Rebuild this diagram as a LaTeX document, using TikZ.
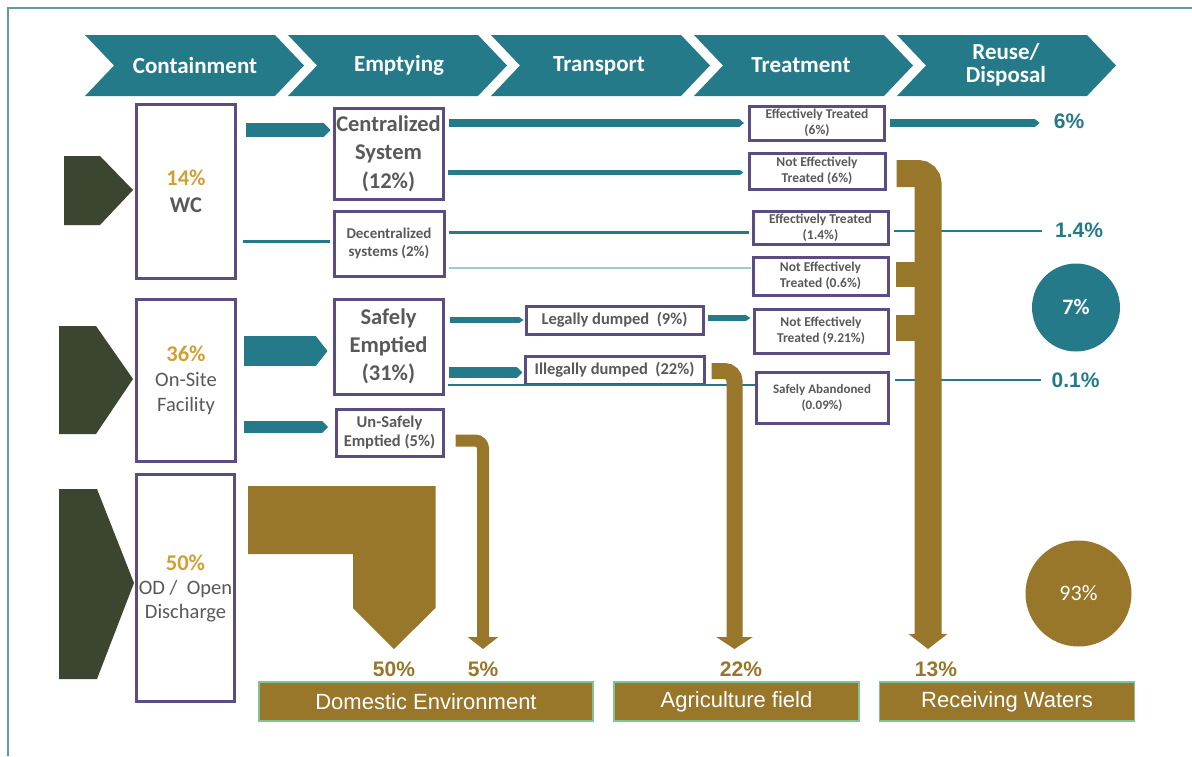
\documentclass[tikz,border=0pt]{standalone}
\usepackage{fontspec}
\setmainfont{Carlito}
\newfontfamily\arialfont{Liberation Sans}
\usepackage{xcolor}
\usetikzlibrary{arrows.meta}

\definecolor{flowteal}{HTML}{257A89}
\definecolor{lightteal}{HTML}{9CCAD2}
\definecolor{mud}{HTML}{98762A}
\definecolor{darkolive}{HTML}{3B4530}
\definecolor{boxpurple}{HTML}{5B4C82}
\definecolor{gold}{HTML}{D1A033}
\definecolor{txtgray}{HTML}{595959}
\definecolor{destgreen}{HTML}{7DC693}
\definecolor{framecol}{HTML}{5E9E9A}
\newcommand{\fs}[2]{\fontsize{#1}{#2}\selectfont}

\begin{document}
\begin{tikzpicture}[x=1pt,y=-1pt]
\tikzstyle{every node}+=[inner sep=0pt]
\tikzstyle{cbox}=[draw=boxpurple, line width=3pt, fill=white, align=center, text=txtgray]
\tikzstyle{head}=[text=white, align=center, font=\bfseries\fs{23}{23}]
\tikzstyle{dest}=[draw=destgreen, line width=1.5pt, fill=mud, text=white, font=\arialfont\fs{22}{26}]
\tikzstyle{pct}=[font=\arialfont\bfseries\fs{21}{24}]
\tikzstyle{tflow}=[draw=flowteal]
\tikzstyle{bflow}=[draw=mud]
\useasboundingbox (0,0) rectangle (1192,756);
\fill[white] (0,0) rectangle (1192,756);
\draw[framecol, line width=1.5pt] (8,756) -- (8,8) -- (1192,8);
% stage chevrons
\foreach \x in {85,288,491,694,897}
  \fill[flowteal] (\x,35) -- ++(190,0) -- ++(29,30.5) -- ++(-29,30.5) -- ++(-190,0) -- ++(29,-30.5) -- cycle;
\node[head] (st1) at (195,65.5) {Containment};
\node[head] (st2) at (399,65.5) {Emptying};
\node[head] (st3) at (599,65.5) {Transport};
\node[head] (st4) at (801,65.5) {Treatment};
\node[head] (st5) at (1006,65) {Reuse/\\Disposal};
% source pointers
\fill[darkolive] (64,156) -- (100,156) -- (133,190) -- (100,225) -- (64,225) -- cycle;
\fill[darkolive] (59,326) -- (96,326) -- (133,379) -- (96,434) -- (59,434) -- cycle;
\fill[darkolive] (59,489) -- (97,489) -- (134,583) -- (97,679) -- (59,679) -- cycle;
% containment
\node[cbox, minimum width=99, minimum height=174, font=\bfseries\fs{22.5}{27}] (wc) at (186,191.5) {{\color{gold}14\%}\\WC};
\node[cbox, minimum width=99, minimum height=162, font=\fs{20.5}{25}] (os) at (186,380) {{\bfseries\fs{22.5}{25}\color{gold}36\%}\\On-Site\\Facility};
\node[cbox, minimum width=98, minimum height=227, font=\fs{20.5}{24}] (od) at (185.5,588) {{\bfseries\fs{22.5}{24}\color{gold}50\%}\\OD /~ Open\\Discharge};
% emptying
\node[cbox, minimum width=109, minimum height=91, font=\bfseries\fs{22.5}{28.5}] (cs) at (388.5,153.5) {Centralized\\System\\(12\%)};
\node[cbox, minimum width=110, minimum height=65, font=\bfseries\fs{15}{18}] (ds) at (389,243.5) {Decentralized\\systems (2\%)};
\node[cbox, minimum width=109, minimum height=95, font=\bfseries\fs{22.5}{28}] (se) at (388.5,346.5) {Safely\\Emptied\\(31\%)};
\node[cbox, minimum width=107, minimum height=47, font=\bfseries\fs{16.5}{19}] (us) at (389.5,432.5) {Un-Safely\\Emptied (5\%)};
% transport
\node[cbox, minimum width=177, minimum height=28, font=\bfseries\fs{16.5}{18}] (ld) at (614.5,320) {Legally dumped~ (9\%)};
\node[cbox, minimum width=179, minimum height=28, font=\bfseries\fs{16.5}{18}] (id) at (614.5,370) {Illegally dumped~ (22\%)};
% treatment
\node[cbox, minimum width=135, minimum height=34, font=\bfseries\fs{13.5}{16}] (et6) at (817,123) {Effectively Treated\\(6\%)};
\node[cbox, minimum width=136, minimum height=36, font=\bfseries\fs{13.5}{16}] (ne6) at (817,171) {Not Effectively\\Treated (6\%)};
\node[cbox, minimum width=135, minimum height=33, font=\bfseries\fs{13.5}{16}] (et14) at (820.5,227.5) {Effectively Treated\\(1.4\%)};
\node[cbox, minimum width=135, minimum height=38, font=\bfseries\fs{13.5}{16}] (ne06) at (820.5,276) {Not Effectively\\Treated (0.6\%)};
\node[cbox, minimum width=134, minimum height=44, font=\bfseries\fs{13.5}{16}] (ne921) at (821,331) {Not Effectively\\Treated (9.21\%)};
\node[cbox, minimum width=132, minimum height=51, font=\bfseries\fs{13}{16}] (sa) at (822,397.5) {Safely Abandoned\\(0.09\%)};
% reuse / disposal
\node[pct, text=flowteal] (p6) at (1069,121) {6\%};
\node[pct, text=flowteal] (p14) at (1079,230) {1.4\%};
\node[pct, text=flowteal] (p01) at (1075.5,380) {0.1\%};
\node[circle, fill=flowteal, minimum size=88, text=white, font=\bfseries\fs{22}{24}] (c7) at (1076,307.5) {7\%};
\node[circle, fill=mud, minimum size=106, text=white, font=\fs{22}{24}] (c93) at (1078.5,593.5) {93\%};
\node[pct, text=mud] (d50) at (394,669) {50\%};
\node[pct, text=mud] (d5) at (483,669) {5\%};
\node[pct, text=mud] (d22) at (741,669) {22\%};
\node[pct, text=mud] (d13) at (936,669) {13\%};
\node[dest, minimum width=334, minimum height=39] (dom) at (426,701.5) {Domestic Environment};
\node[dest, minimum width=245, minimum height=39] (agr) at (736.5,701.5) {Agriculture field};
\node[dest, minimum width=255, minimum height=39] (rw) at (1007,701.5) {Receiving Waters};
\coordinate (t5) at (483,649);
\coordinate (t22) at (734.5,649);
\coordinate (t13) at (928,649);
% teal flows
\draw[tflow, line width=14pt, shorten <=9pt, shorten >=2pt, -{Triangle[length=7pt,width=14pt]}] (wc.east |- 0,130) -- (cs.west |- 0,130);
\draw[tflow, line width=3pt, shorten <=6pt, shorten >=3pt] (wc.east |- 0,241) -- (ds.west |- 0,241);
\draw[tflow, line width=8pt, shorten <=4pt, shorten >=4pt, -{Triangle[length=5pt,width=8pt]}] (cs.east |- 0,123) -- (et6.west |- 0,123);
\draw[tflow, line width=5pt, shorten <=3pt, shorten >=4pt, -{Triangle[length=4pt,width=5pt]}] (cs.east |- 0,172.5) -- (ne6.west |- 0,172.5);
\draw[tflow, line width=2.5pt, shorten <=3pt, shorten >=3pt] (ds.east |- 0,232.5) -- (et14.west |- 0,232.5);
\draw[lightteal, line width=1.5pt, shorten <=3pt, shorten >=1pt] (ds.east |- 0,268) -- (ne06.west |- 0,268);
\draw[tflow, line width=8pt, shorten <=4pt, shorten >=14pt, -{Triangle[length=5pt,width=8pt]}] (et6.east |- 0,123) -- (p6.west |- 0,123);
\draw[tflow, line width=2.5pt, shorten <=4pt, shorten >=13pt] (et14.east |- 0,231) -- (p14.west |- 0,231);
\draw[tflow, line width=6.5pt, shorten <=5pt, shorten >=1pt, -{Triangle[length=5pt,width=6.5pt]}] (se.east |- ld.west) -- (ld.west);
\draw[tflow, line width=11pt, shorten <=4pt, shorten >=1pt, -{Triangle[length=6pt,width=11pt]}] (se.east |- 0,372.5) -- (id.west |- 0,372.5);
\draw[tflow, line width=6pt, shorten <=3pt, shorten >=2pt, -{Triangle[length=5pt,width=6pt]}] (ld.east |- 0,318) -- (ne921.west |- 0,318);
\draw[tflow, line width=1.3pt, shorten <=3pt] (se.east |- 0,385) -- (sa.west |- 0,385);
\draw[tflow, line width=2pt, shorten <=5pt, shorten >=10pt] (sa.east |- 0,380) -- (p01.west |- 0,380);
\draw[tflow, line width=30pt, shorten <=7pt, shorten >=5pt, -{Triangle[length=12pt,width=30pt]}] (os.east |- 0,351) -- (se.west |- 0,351);
\draw[tflow, line width=12pt, shorten <=7pt, shorten >=6.5pt, -{Triangle[length=6pt,width=12pt]}] (os.east |- 0,427) -- (us.west |- 0,427);
% brown flows
\fill[mud] (248,486) -- (435.5,486) -- (435.5,608) -- (394,649) -- (353,608) -- (353,554) -- (248,554) -- cycle;
\draw[bflow, line width=12pt, rounded corners=8pt, shorten <=11pt, -{Triangle[length=12pt,width=30pt]}] (us.east |- 0,440.5) -| (t5);
\draw[bflow, line width=16pt, rounded corners=10pt, shorten <=6pt, -{Triangle[length=12pt,width=36pt]}] (id.east |- 0,371) -| (t22);
\draw[bflow, line width=27pt, rounded corners=10pt, shorten <=10pt, -{Triangle[length=15pt,width=38pt]}] (ne6.east |- 0,173.5) -| (t13);
\fill[mud] (896,262) rectangle (916,287);
\fill[mud] (896,315) rectangle (916,341);
\end{tikzpicture}
\end{document}
